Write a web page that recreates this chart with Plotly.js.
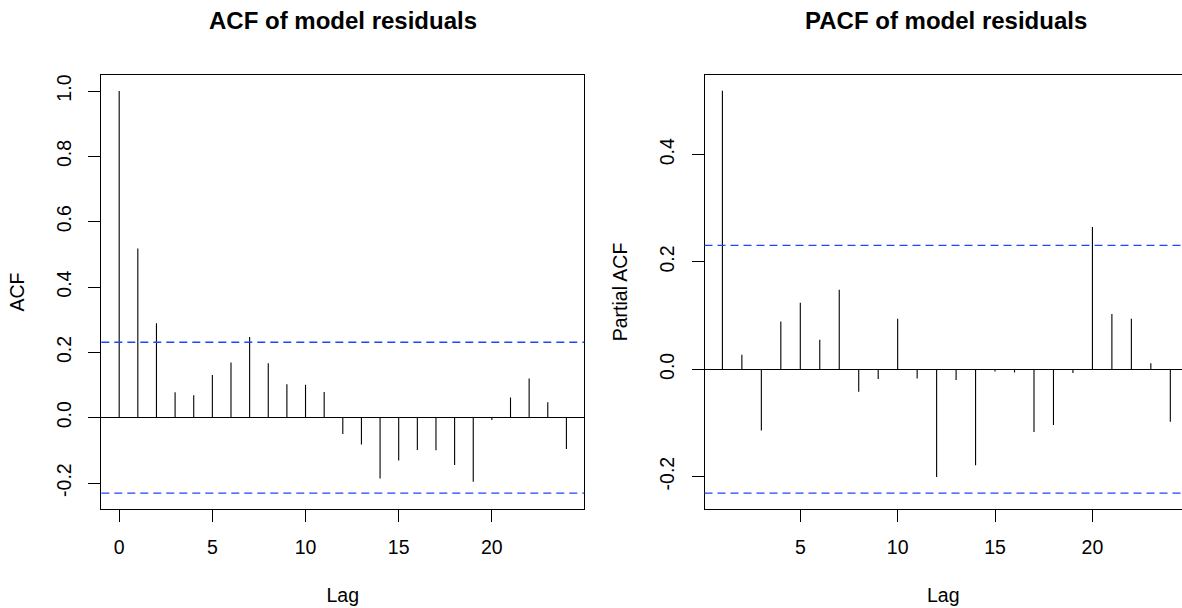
<!DOCTYPE html>
<html>
<head>
<meta charset="utf-8">
<script src="https://cdn.plot.ly/plotly-3.0.1.min.js"></script>
<style>
html,body{margin:0;padding:0;background:#fff;overflow:hidden;}
#chart{width:1182px;height:608px;}
</style>
</head>
<body>
<div id="chart"></div>
<script>
// ---- data ----
var acfLags = [0,1,2,3,4,5,6,7,8,9,10,11,12,13,14,15,16,17,18,19,20,21,22,23,24];
var acfValues = [1.000,0.518,0.289,0.078,0.069,0.131,0.169,0.247,0.167,0.102,0.101,0.079,
                 -0.050,-0.082,-0.186,-0.131,-0.099,-0.100,-0.145,-0.196,-0.007,0.062,0.120,0.047,-0.096];
var pacfLags = [1,2,3,4,5,6,7,8,9,10,11,12,13,14,15,16,17,18,19,20,21,22,23,24];
var pacfValues = [0.519,0.027,-0.114,0.089,0.124,0.055,0.148,-0.042,-0.018,0.094,-0.017,-0.201,
                  -0.020,-0.179,-0.004,-0.006,-0.117,-0.104,-0.007,0.265,0.103,0.094,0.011,-0.098];
var ciBound = 0.231;
var acfXTicks = [0,5,10,15,20];
var pacfXTicks = [5,10,15,20];
var acfYTicks = [-0.2,0.0,0.2,0.4,0.6,0.8,1.0];
var pacfYTicks = [-0.2,0.0,0.2,0.4];
var titles = ["ACF of model residuals","PACF of model residuals"];
var yTitles = ["ACF","Partial ACF"];
var xTitle = "Lag";

// ---- build spike segments ----
function spikes(lags, vals, xa, ya){
  var xs=[], ys=[];
  for(var i=0;i<lags.length;i++){ xs.push(lags[i],lags[i],null); ys.push(0,vals[i],null); }
  return {type:'scatter', mode:'lines', x:xs, y:ys, xaxis:xa, yaxis:ya,
          line:{color:'#000000', width:1.1}, hoverinfo:'skip', showlegend:false};
}

var FONT = 'Liberation Sans, Arial, Helvetica, sans-serif';
var W=1182, H=608;
function px2x(p){return p/W;}
function px2y(p){return 1-p/H;}

var leftDom=[px2x(101.3), px2x(584.3)];
var rightDom=[px2x(704.5), 1];
var yDom=[px2y(509.3), px2y(74.7)];
var TICKSIZE=19.5, AXTITLESIZE=19.5, MAINSIZE=24;

function xaxisDef(dom, range, ticks, mirror){
  return {domain:dom, range:range, tickmode:'array', tickvals:ticks, ticktext:ticks.map(String),
    ticks:'outside', ticklen:12, tickwidth:1, tickcolor:'#000',
    showline:true, linecolor:'#000', linewidth:1, mirror:mirror,
    showgrid:false, zeroline:false, fixedrange:true,
    tickfont:{family:FONT, size:TICKSIZE, color:'#000'},
    ticklabelstandoff:8,
    title:{text:xTitle, font:{family:FONT, size:AXTITLESIZE, color:'#000'}, standoff:31}};
}
function yaxisDef(range, ticks, title, anchor, mirror){
  return {domain:yDom, range:range, anchor:anchor, tickmode:'array', tickvals:ticks,
    ticktext:ticks.map(function(v){return v.toFixed(1);}),
    ticks:'outside', ticklen:12, tickwidth:1, tickcolor:'#000', tickangle:-90,
    showline:true, linecolor:'#000', linewidth:1, mirror:mirror,
    showgrid:false, zeroline:true, zerolinecolor:'#000', zerolinewidth:1, fixedrange:true,
    tickfont:{family:FONT, size:TICKSIZE, color:'#000'},
    ticklabelstandoff:10,
    title:{text:title, font:{family:FONT, size:AXTITLESIZE, color:'#000'}, standoff:22}};
}

var data=[spikes(acfLags, acfValues, 'x', 'y'), spikes(pacfLags, pacfValues, 'x2', 'y2')];

var ciLine={color:'#1F45FF', width:1.3, dash:'8px,5px'};
var shapes=[
  {type:'line', xref:'x domain', yref:'y', x0:0, x1:1, y0:ciBound, y1:ciBound, line:ciLine},
  {type:'line', xref:'x domain', yref:'y', x0:0, x1:1, y0:-ciBound, y1:-ciBound, line:ciLine},
  {type:'line', xref:'x2 domain', yref:'y2', x0:0, x1:1, y0:ciBound, y1:ciBound, line:ciLine},
  {type:'line', xref:'x2 domain', yref:'y2', x0:0, x1:1, y0:-ciBound, y1:-ciBound, line:ciLine}
];

var layout={
  width:W, height:H, margin:{l:0,r:0,t:0,b:0},
  paper_bgcolor:'#fff', plot_bgcolor:'#fff', showlegend:false,
  xaxis:xaxisDef(leftDom, [-0.96,24.96], acfXTicks, true),
  yaxis:yaxisDef([-0.2804,1.0499], acfYTicks, yTitles[0], 'x', true),
  xaxis2:xaxisDef(rightDom, [0.081,24.6], pacfXTicks, true),
  yaxis2:yaxisDef([-0.261,0.549], pacfYTicks, yTitles[1], 'x2', false),
  shapes:shapes,
  annotations:[
    {text:'<b>'+titles[0]+'</b>', xref:'paper', yref:'paper', x:(leftDom[0]+leftDom[1])/2, y:px2y(20),
     xanchor:'center', yanchor:'middle', showarrow:false, font:{family:FONT, size:MAINSIZE, color:'#000'}},
    {text:'<b>'+titles[1]+'</b>', xref:'paper', yref:'paper', x:(704.5+1188)/2/W, y:px2y(20),
     xanchor:'center', yanchor:'middle', showarrow:false, font:{family:FONT, size:MAINSIZE, color:'#000'}}
  ]
};
layout.xaxis2.anchor='y2';
layout.xaxis.anchor='y';

Plotly.newPlot('chart', data, layout, {displayModeBar:false, staticPlot:true});
</script>
</body>
</html>
